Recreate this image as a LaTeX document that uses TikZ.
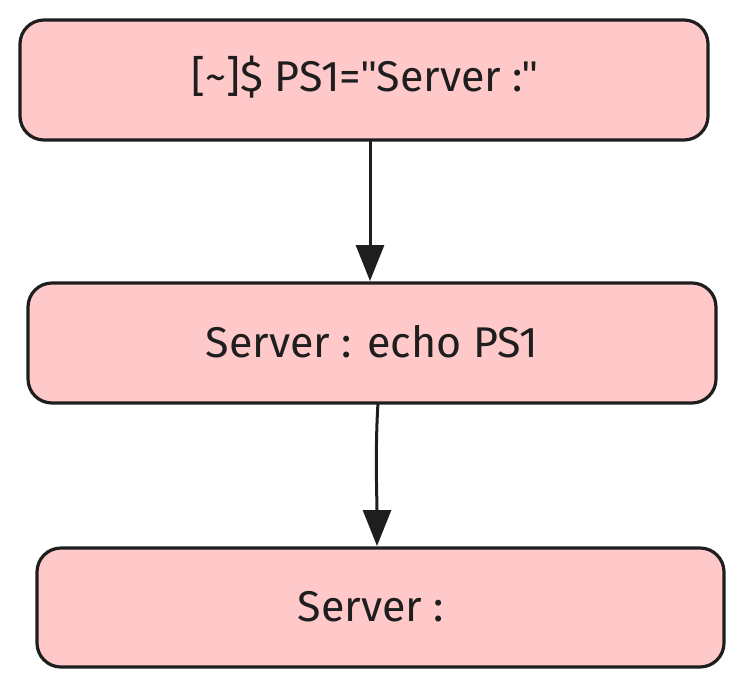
\documentclass[tikz,border=0pt]{standalone}
\usepackage{fontspec}
\setmainfont{Fira Sans}
\newfontfamily\quotefont{Liberation Sans}
\newcommand{\sq}{{\quotefont\char34}}
\usetikzlibrary{arrows.meta}
\definecolor{boxfill}{HTML}{FFC9C9}
\definecolor{ink}{HTML}{1E1E1E}
\begin{document}
\begin{tikzpicture}[x=1pt,y=-1pt,
  box/.style={draw=ink,fill=boxfill,line width=3.2pt,rounded corners=24pt},
  lbl/.style={font=\fontsize{43}{48}\selectfont,text=ink,inner sep=0pt},
  conn/.style={draw=ink,line width=3pt,-{Triangle[width=28pt,length=36pt]}}]
\useasboundingbox (0,0) rectangle (743,688);
\draw[box] (20,20) rectangle (708,140);
\draw[box] (28,283) rectangle (716,403);
\draw[box] (37,548) rectangle (724,667);
\coordinate (b1) at (370,140);
\coordinate (t2) at (370,281);
\coordinate (b2) at (378,403);
\coordinate (t3) at (377,546);
\node[lbl] (l1) at (365,77) {[\textasciitilde]\$ PS1=\sq Server :\sq};
\node[lbl] (l2) at (372,342) {Server : echo PS1};
\node[lbl] (l3) at (371,607) {Server :};
\draw[conn] (b1) -- (t2);
\draw[conn] (b2) .. controls (375,450) and (377,500) .. (t3);
\end{tikzpicture}
\end{document}
